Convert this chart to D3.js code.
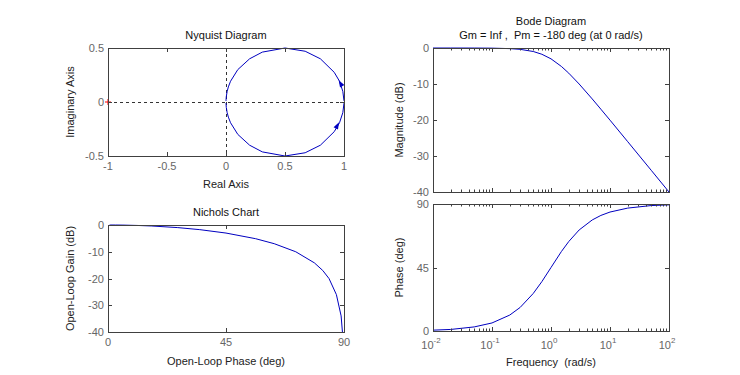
<!DOCTYPE html>
<html>
<head>
<meta charset="utf-8">
<script src="https://cdn.jsdelivr.net/npm/d3@7"></script>
<style>
  body { margin: 0; background: #fff; }
  text { font-family: "Liberation Sans", Arial, sans-serif; white-space: pre; }
</style>
</head>
<body>
<div id="chart"></div>
<script>
// frequency response of the system
var freq   = [0.01, 0.02, 0.05, 0.1, 0.2, 0.3, 0.5, 0.7, 1, 1.5, 2, 3, 5, 7, 10, 20, 50, 100];
var magDb  = [0, 0, -0.01, -0.04, -0.17, -0.37, -0.97, -1.74, -3.01, -5.12, -6.99, -10.0, -14.15, -17.0, -20.04, -26.03, -33.98, -40.0];
var phase  = [0.6, 1.1, 2.9, 5.7, 11.3, 16.7, 26.6, 35.0, 45.0, 56.3, 63.4, 71.6, 78.7, 81.9, 84.3, 87.1, 88.9, 89.4];
// nyquist curve, positive frequencies (upper half) and negative ones (lower half)
var nyqRe  = [1.0, 0.99, 0.962, 0.917, 0.8, 0.671, 0.5, 0.308, 0.2, 0.1, 0.0385, 0.02, 0.0099, 0.0025, 0.0004, 0.0001];
var nyqIm  = [0.01, 0.099, 0.192, 0.275, 0.4, 0.47, 0.5, 0.462, 0.4, 0.3, 0.192, 0.14, 0.099, 0.05, 0.02, 0.01];
var nyqImNeg = [-0.01, -0.099, -0.192, -0.275, -0.4, -0.47, -0.5, -0.462, -0.4, -0.3, -0.192, -0.14, -0.099, -0.05, -0.02, -0.01];

var nyqXTicks = [-1, -0.5, 0, 0.5, 1];
var nyqYTicks = [-0.5, 0, 0.5];
var magTicks  = [-40, -30, -20, -10, 0];
var phTicks   = [0, 45, 90];
var nicXTicks = [0, 45, 90];
var nicYTicks = [-40, -30, -20, -10, 0];
var decades   = [-2, -1, 0, 1, 2];

var width = 740, height = 375;
var blue = "#0000c0", axisCol = "#404040", tickCol = "#666", labCol = "#222";
var tickLen = 4;

var svg = d3.select("#chart").append("svg")
    .attr("width", width).attr("height", height);
svg.append("rect").attr("width", width).attr("height", height).attr("fill", "#fff");

// panel boxes in pixels
var pNyq = {x0: 108, x1: 344, y0: 48, y1: 156};
var pNic = {x0: 108, x1: 344, y0: 225, y1: 332};
var pMag = {x0: 433, x1: 669, y0: 48, y1: 192};
var pPh  = {x0: 433, x1: 669, y0: 204, y1: 331};

function box(p) {
  svg.append("rect")
    .attr("x", p.x0).attr("y", p.y0)
    .attr("width", p.x1 - p.x0).attr("height", p.y1 - p.y0)
    .attr("fill", "none").attr("stroke", axisCol).attr("stroke-width", 1)
    .attr("shape-rendering", "crispEdges");
}

function xTicksLin(p, sc, vals, labels) {
  vals.forEach(function (v, i) {
    var x = Math.round(sc(v)) + 0.5;
    svg.append("line").attr("x1", x).attr("x2", x).attr("y1", p.y1).attr("y2", p.y1 - tickLen).attr("stroke", axisCol);
    svg.append("line").attr("x1", x).attr("x2", x).attr("y1", p.y0).attr("y2", p.y0 + tickLen).attr("stroke", axisCol);
    if (labels) {
      svg.append("text").attr("x", sc(v)).attr("y", p.y1 + 14)
        .attr("text-anchor", "middle").attr("font-size", 11).attr("fill", tickCol)
        .text(labels[i]);
    }
  });
}

function yTicksLin(p, sc, vals, labels) {
  vals.forEach(function (v, i) {
    var y = Math.round(sc(v)) + 0.5;
    svg.append("line").attr("y1", y).attr("y2", y).attr("x1", p.x0).attr("x2", p.x0 + tickLen).attr("stroke", axisCol);
    svg.append("line").attr("y1", y).attr("y2", y).attr("x1", p.x1).attr("x2", p.x1 - tickLen).attr("stroke", axisCol);
    svg.append("text").attr("x", p.x0 - 4).attr("y", sc(v) + 4)
      .attr("text-anchor", "end").attr("font-size", 11).attr("fill", tickCol)
      .text(labels ? labels[i] : v);
  });
}

function xTicksLog(p, sc, showLabels) {
  decades.forEach(function (d) {
    for (var k = 1; k <= 9; k++) {
      if (d === 2 && k > 1) break;
      var v = k * Math.pow(10, d);
      var x = Math.round(sc(v)) + 0.5;
      var len = k === 1 ? tickLen : 2.5;
      svg.append("line").attr("x1", x).attr("x2", x).attr("y1", p.y1).attr("y2", p.y1 - len).attr("stroke", axisCol);
      svg.append("line").attr("x1", x).attr("x2", x).attr("y1", p.y0).attr("y2", p.y0 + len).attr("stroke", axisCol);
    }
    if (showLabels) {
      var t = svg.append("text").attr("x", sc(Math.pow(10, d)) - 2).attr("y", p.y1 + 18)
        .attr("text-anchor", "middle").attr("font-size", 11).attr("fill", tickCol);
      t.append("tspan").text("10");
      t.append("tspan").attr("dy", -6).attr("font-size", 8).text(d);
    }
  });
}

function yLabel(p, x, txt) {
  svg.append("text").attr("transform", "translate(" + x + "," + ((p.y0 + p.y1) / 2) + ") rotate(-90)")
    .attr("text-anchor", "middle").attr("font-size", 11).attr("fill", labCol).text(txt);
}

function title(p, y, txt) {
  svg.append("text").attr("x", (p.x0 + p.x1) / 2).attr("y", y)
    .attr("text-anchor", "middle").attr("font-size", 11).attr("fill", "#111").text(txt);
}

// ---------- Nyquist ----------
var nx = d3.scaleLinear().domain([-1, 1]).range([pNyq.x0, pNyq.x1]);
var ny = d3.scaleLinear().domain([-0.5, 0.5]).range([pNyq.y1, pNyq.y0]);

svg.append("line").attr("x1", pNyq.x0).attr("x2", pNyq.x1).attr("y1", Math.round(ny(0)) + 0.5).attr("y2", Math.round(ny(0)) + 0.5)
  .attr("stroke", "#333").attr("stroke-dasharray", "3,3");
svg.append("line").attr("y1", pNyq.y0).attr("y2", pNyq.y1).attr("x1", Math.round(nx(0)) + 0.5).attr("x2", Math.round(nx(0)) + 0.5)
  .attr("stroke", "#333").attr("stroke-dasharray", "3,3");

var nyqLine = d3.line().x(function (d) { return nx(d[0]); }).y(function (d) { return ny(d[1]); });
var upper = nyqRe.map(function (r, i) { return [r, nyqIm[i]]; });
var lower = nyqRe.map(function (r, i) { return [r, nyqImNeg[i]]; });
svg.append("path").datum(upper).attr("d", nyqLine).attr("fill", "none").attr("stroke", blue).attr("stroke-width", 1);
svg.append("path").datum(lower).attr("d", nyqLine).attr("fill", "none").attr("stroke", blue).attr("stroke-width", 1);

// direction arrows
function arrow(a, b) {
  var x = nx(a[0]), y = ny(a[1]);
  var ang = Math.atan2(ny(b[1]) - y, nx(b[0]) - x) * 180 / Math.PI;
  svg.append("path").attr("d", "M4,0 L-3,-2.5 L-3,2.5 Z")
    .attr("transform", "translate(" + x + "," + y + ") rotate(" + ang + ")")
    .attr("fill", blue);
}
arrow([nyqRe[2] + 0.01, 0.17], upper[3]);
arrow([nyqRe[3] + 0.025, -0.22], [1.0, -0.1]);

// critical point
svg.append("path").attr("d", "M" + (nx(-1) - 3) + "," + ny(0) + "h6M" + nx(-1) + "," + (ny(0) - 3) + "v6")
  .attr("stroke", "red").attr("stroke-width", 1);

box(pNyq);
xTicksLin(pNyq, nx, nyqXTicks, nyqXTicks.map(String));
yTicksLin(pNyq, ny, nyqYTicks);
title(pNyq, 39, "Nyquist Diagram");
yLabel(pNyq, 74, "Imaginary Axis");
svg.append("text").attr("x", (pNyq.x0 + pNyq.x1) / 2).attr("y", 188).attr("text-anchor", "middle")
  .attr("font-size", 11).attr("fill", labCol).text("Real Axis");

// ---------- Nichols ----------
var cx = d3.scaleLinear().domain([0, 90]).range([pNic.x0, pNic.x1]);
var cy = d3.scaleLinear().domain([-40, 0]).range([pNic.y1, pNic.y0]);
var nicLine = d3.line().x(function (d) { return cx(d[0]); }).y(function (d) { return cy(d[1]); });
svg.append("path").datum(phase.map(function (p, i) { return [p, magDb[i]]; }))
  .attr("d", nicLine).attr("fill", "none").attr("stroke", blue);
box(pNic);
xTicksLin(pNic, cx, nicXTicks, nicXTicks.map(String));
yTicksLin(pNic, cy, nicYTicks);
title(pNic, 216, "Nichols Chart");
yLabel(pNic, 74, "Open-Loop Gain (dB)");
svg.append("text").attr("x", (pNic.x0 + pNic.x1) / 2).attr("y", 365).attr("text-anchor", "middle")
  .attr("font-size", 11).attr("fill", labCol).text("Open-Loop Phase (deg)");

// ---------- Bode ----------
var bx = d3.scaleLog().domain([0.01, 100]).range([pMag.x0, pMag.x1]);
var my = d3.scaleLinear().domain([-40, 0]).range([pMag.y1, pMag.y0]);
var py = d3.scaleLinear().domain([0, 90]).range([pPh.y1, pPh.y0]);

svg.append("path").datum(freq.map(function (f, i) { return [f, magDb[i]]; }))
  .attr("d", d3.line().x(function (d) { return bx(d[0]); }).y(function (d) { return my(d[1]); }))
  .attr("fill", "none").attr("stroke", blue);
svg.append("path").datum(freq.map(function (f, i) { return [f, phase[i]]; }))
  .attr("d", d3.line().x(function (d) { return bx(d[0]); }).y(function (d) { return py(d[1]); }))
  .attr("fill", "none").attr("stroke", blue);

box(pMag);
xTicksLog(pMag, bx, false);
yTicksLin(pMag, my, magTicks);
box(pPh);
xTicksLog(pPh, bx, true);
yTicksLin(pPh, py, phTicks);

title(pMag, 25, "Bode Diagram");
title(pMag, 39, "Gm = Inf ,  Pm = -180 deg (at 0 rad/s)");
yLabel(pMag, 403, "Magnitude (dB)");
yLabel(pPh, 403, "Phase (deg)");
svg.append("text").attr("x", (pPh.x0 + pPh.x1) / 2).attr("y", 366).attr("text-anchor", "middle")
  .attr("font-size", 11).attr("fill", labCol).text("Frequency  (rad/s)");
</script>
</body>
</html>
